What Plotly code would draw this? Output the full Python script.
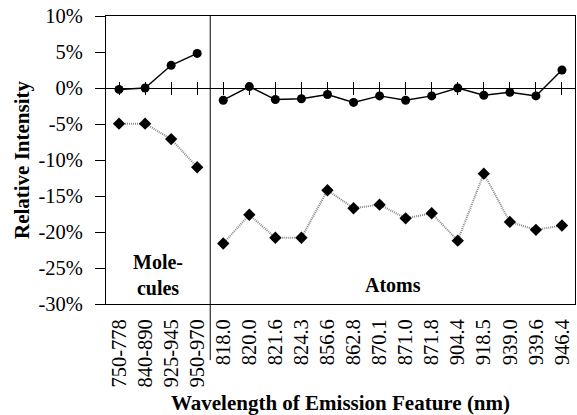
import plotly.graph_objects as go

molecule_labels = ["750-778", "840-890", "925-945", "950-970"]
atom_labels = ["818.0", "820.0", "821.6", "824.3", "856.6", "862.8", "870.1",
               "871.0", "871.8", "904.4", "918.5", "939.0", "939.6", "946.4"]

molecule_circles = [-0.2, 0.0, 3.15, 4.8]
atom_circles = [-1.7, 0.2, -1.6, -1.5, -0.9, -2.0, -1.1, -1.7, -1.1, 0.0, -1.0, -0.6, -1.1, 2.5]
molecule_diamonds = [-4.95, -4.95, -7.1, -11.0]
atom_diamonds = [-21.6, -17.6, -20.8, -20.8, -14.2, -16.7, -16.2, -18.1, -17.4, -21.2, -11.9, -18.6, -19.7, -19.1]

yticks = [10, 5, 0, -5, -10, -15, -20, -25, -30]

FONT = "Liberation Serif"
categories = molecule_labels + atom_labels
nm = len(molecule_labels)
xpos = list(range(len(categories)))
xmol = xpos[:nm]
xatom = xpos[nm:]
xr = [-0.5, len(categories) - 0.5]
yr = [-30, 10]

fig = go.Figure()
diamond_style = dict(mode="lines+markers",
                     line=dict(color="#8a8a8a", width=2, dash="1px,1px"),
                     marker=dict(symbol="diamond", size=9.5, color="black"),
                     showlegend=False, hoverinfo="skip")
circle_style = dict(mode="lines+markers",
                    line=dict(color="black", width=1.4),
                    marker=dict(symbol="circle", size=9, color="black"),
                    showlegend=False, hoverinfo="skip")
fig.add_trace(go.Scatter(x=xmol, y=molecule_diamonds, **diamond_style))
fig.add_trace(go.Scatter(x=xatom, y=atom_diamonds, **diamond_style))
fig.add_trace(go.Scatter(x=xmol, y=molecule_circles, **circle_style))
fig.add_trace(go.Scatter(x=xatom, y=atom_circles, **circle_style))
for ax in ["x2", "x3"]:
    fig.add_trace(go.Scatter(x=xpos, y=molecule_circles + atom_circles, xaxis=ax, mode="markers",
                             marker=dict(opacity=0), showlegend=False, hoverinfo="skip"))

zero_pos = (0 - yr[0]) / (yr[1] - yr[0])
ax_common = dict(range=xr, tickmode="array", tickvals=xpos, showticklabels=False,
                 showgrid=False, zeroline=False, showline=False, overlaying="x",
                 anchor="free", position=zero_pos, ticklen=6, tickwidth=1, tickcolor="black")

fig.update_layout(
    width=577, height=415,
    margin=dict(l=106, r=2, t=16, b=111),
    paper_bgcolor="white", plot_bgcolor="white",
    font=dict(family=FONT, size=20, color="black"),
    xaxis=dict(range=xr, tickmode="array", tickvals=xpos, ticktext=categories,
               tickangle=-90, ticks="", showgrid=False, zeroline=False,
               showline=True, linecolor="black", linewidth=1, mirror=True,
               tickfont=dict(family=FONT, size=20.5), ticklabelstandoff=6,
               title=dict(text="<b>Wavelength of Emission Feature (nm)</b>",
                          font=dict(family=FONT, size=21), standoff=8)),
    xaxis2=dict(ax_common, ticks="outside"),
    xaxis3=dict(ax_common, ticks="inside"),
    yaxis=dict(range=yr, tickmode="array", tickvals=yticks,
               ticktext=[f"{v}%" for v in yticks],
               ticks="outside", ticklen=10, tickwidth=1, tickcolor="black",
               showgrid=False, zeroline=True, zerolinecolor="black", zerolinewidth=1,
               showline=True, linecolor="black", linewidth=1, mirror=True,
               tickfont=dict(family=FONT, size=20.5), ticklabelstandoff=8,
               title=dict(text="<b>Relative Intensity</b>",
                          font=dict(family=FONT, size=21), standoff=3)),
)

div_x = nm - 0.5
fig.add_shape(type="line", xref="x", yref="paper", x0=div_x, x1=div_x,
              y0=-0.195, y1=1, line=dict(color="black", width=1))

fig.add_annotation(x=(nm - 1) / 2, y=-26, xref="x", yref="y",
                   text="<b>Mole-<br>cules</b>", showarrow=False,
                   font=dict(family=FONT, size=20))
fig.add_annotation(x=nm + (len(atom_labels) - 1) / 2, y=-27.4, xref="x", yref="y",
                   text="<b>Atoms</b>", showarrow=False,
                   font=dict(family=FONT, size=20))

fig.write_html("out.html")
